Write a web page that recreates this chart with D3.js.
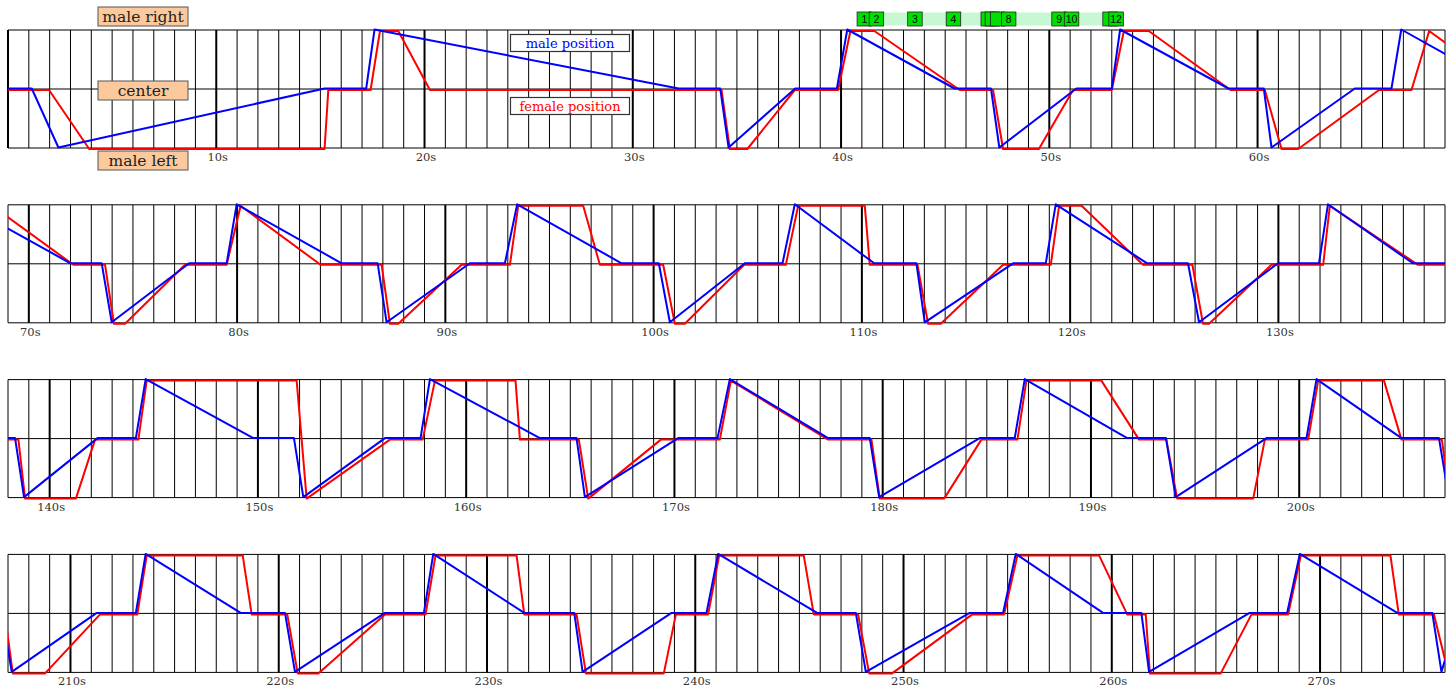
<!DOCTYPE html>
<html>
<head>
<meta charset="utf-8">
<script src="https://cdn.jsdelivr.net/npm/d3@7"></script>
<style>
  body { margin: 0; background: #fff; }
  svg { display: block; }
</style>
</head>
<body>
<div id="chart"></div>
<script>
// seconds shown on each strip
const rowStarts = [0, 69, 138, 207];
const ROW_SECONDS = 69;

const levelLabels = ['male right', 'center', 'male left'];
const levelValues = [1, 0, -1];
const legendLabels = ['male position', 'female position'];

// numbered event markers above the first strip
const markerLabels = ['1', '2', '3', '4', '5', '6', '7', '8', '9', '10', '11', '12'];
const markerTimes = [40.77, 41.35, 43.2, 45.05, 46.72, 46.92, 47.17, 47.7, 50.12, 50.72, 52.57, 52.86];

// [seconds, position]  1 = right, 0 = center, -1 = left
const maleTrack = [
  [0, 0], [1.14, 0], [2.42, -1], [15.2, 0], [17.2, 0], [17.6, 1], [32.2, 0], [34.2, 0], [34.6, -1],
  [37.8, 0], [39.8, 0], [40.3, 1], [45.45, 0], [47.2, 0], [47.6, -1], [51.3, 0], [53.0, 0], [53.4, 1],
  [58.6, 0], [60.3, 0], [60.67, -1], [64.67, 0], [66.43, 0], [66.9, 1],
  [72.0, 0], [73.5, 0], [73.98, -1], [77.7, 0], [79.5, 0], [79.98, 1], [85.02, 0], [86.75, 0], [87.18, -1],
  [91.18, 0], [92.86, 0], [93.45, 1], [98.46, 0], [100.25, 0], [100.78, -1], [104.38, 0], [106.19, 0],
  [106.78, 1], [110.59, 0], [112.62, 0], [113.02, -1], [117.26, 0], [118.83, 0], [119.31, 1], [123.7, 0],
  [125.66, 0], [126.19, -1], [129.98, 0], [131.95, 0], [132.38, 1], [136.46, 0],
  [138.34, 0], [138.77, -1], [142.3, 0], [144.14, 0], [144.61, 1], [149.78, 0], [151.73, 0], [152.18, -1],
  [156.1, 0], [157.81, 0], [158.26, 1], [163.54, 0], [165.3, 0], [165.7, -1], [170.18, 0], [172.07, 0],
  [172.66, 1], [177.38, 0], [179.38, 0], [179.83, -1], [184.66, 0], [186.34, 0], [186.82, 1], [191.74, 0],
  [193.6, 0], [194.07, -1], [198.43, 0], [200.35, 0], [200.83, 1], [204.91, 0], [206.71, 0], [207.18, -1],
  [211.26, 0], [213.14, 0], [213.61, 1], [218.17, 0], [220.3, 0], [220.78, -1], [225.1, 0], [226.97, 0],
  [227.42, 1], [231.79, 0], [234.19, 0], [234.59, -1], [238.86, 0], [240.54, 0], [241.1, 1], [245.85, 0],
  [247.71, 0], [248.19, -1], [253.18, 0], [254.78, 0], [255.39, 1], [259.58, 0], [261.42, 0], [261.79, -1],
  [266.62, 0], [268.42, 0], [269.03, 1], [273.71, 0], [275.39, 0], [275.83, -1], [276, -0.8]
];

const femaleTrack = [
  [0, 0], [1.97, 0], [3.9, -1], [15.2, -1], [15.38, 0], [17.41, 0], [17.86, 1], [18.74, 1], [20.26, 0],
  [34.26, 0], [34.66, -1], [35.5, -1], [37.78, 0], [39.86, 0], [40.45, 1], [41.6, 1], [45.7, 0], [47.3, 0],
  [47.78, -1], [49.5, -1], [51.14, 0], [53.0, 0], [53.58, 1], [54.78, 1], [58.7, 0], [60.35, 0], [61.15, -1],
  [61.95, -1], [65.83, 0], [67.39, 0], [68.24, 1],
  [72.14, 0], [73.66, 0], [74.09, -1], [74.62, -1], [77.5, 0], [79.5, 0], [80.17, 1], [84.01, 0], [86.94, 0],
  [87.34, -1], [87.74, -1], [90.78, 0], [93.1, 0], [93.5, 1], [96.62, 1], [97.42, 0], [100.46, 0], [101.02, -1],
  [101.5, -1], [104.35, 0], [106.35, 0], [106.94, 1], [110.14, 1], [110.38, 0], [112.67, 0], [113.18, -1],
  [113.79, -1], [116.78, 0], [119.07, 0], [119.47, 1], [120.55, 1], [123.5, 0], [125.87, 0], [126.38, -1],
  [126.67, -1], [129.67, 0], [132.15, 0], [132.47, 1], [136.7, 0],
  [138.5, 0], [138.82, -1], [141.26, -1], [142.18, 0], [144.26, 0], [144.66, 1], [151.86, 1], [152.34, -1],
  [156.34, 0], [157.91, 0], [158.5, 1], [162.37, 1], [162.58, 0], [165.41, 0], [165.86, -1], [169.35, 0],
  [172.18, 0], [172.71, 1], [177.38, 0], [179.46, 0], [179.86, -1], [182.95, -1], [184.74, 0], [186.47, 0],
  [186.9, 1], [190.5, 1], [192.31, 0], [193.62, 0], [194.14, -1], [197.79, -1], [198.35, 0], [200.43, 0],
  [200.91, 1], [204.07, 1], [204.91, 0], [206.85, 0], [207.23, -1],
  [208.78, -1], [211.42, 0], [213.21, 0], [213.66, 1], [218.27, 1], [218.7, 0], [220.41, 0], [220.91, -1],
  [221.9, -1], [225.1, 0], [227.05, 0], [227.53, 1], [231.42, 1], [231.79, 0], [234.3, 0], [234.75, -1],
  [238.49, -1], [239.07, 0], [240.62, 0], [241.15, 1], [245.21, 1], [245.69, 0], [247.82, 0], [248.35, -1],
  [249.45, -1], [253.3, 0], [254.83, 0], [255.47, 1], [259.39, 1], [260.74, 0], [261.63, 0], [261.83, -1],
  [265.23, -1], [266.71, 0], [268.47, 0], [269.08, 1], [273.38, 1], [273.78, 0], [275.47, 0], [276, -0.77]
];

const WIDTH = 1455, HEIGHT = 692;
const LEFT = 8, RIGHT = 1445;
const TOP = 30, ROW_H = 118, ROW_STEP = 174.8;
const SERIF = '"DejaVu Serif", serif';

const svg = d3.select('#chart').append('svg')
  .attr('width', WIDTH)
  .attr('height', HEIGHT)
  .style('background', '#fff');

const defs = svg.append('defs');

const y = d3.scaleLinear().domain([-1, 1]).range([ROW_H, 0]);

const line = function(x, dy) {
  return d3.line()
    .x(d => x(d[0]))
    .y(d => y(d[1]) + dy);
};

let x0 = null;

rowStarts.forEach(function(start, i) {
  const x = d3.scaleLinear().domain([start, start + ROW_SECONDS]).range([LEFT, RIGHT]);
  if (i === 0) x0 = x;
  const g = svg.append('g').attr('class', 'row').attr('transform', `translate(0,${TOP + i * ROW_STEP})`);

  defs.append('clipPath').attr('id', 'clip' + i)
    .append('rect')
    .attr('x', LEFT).attr('y', -3)
    .attr('width', RIGHT - LEFT).attr('height', ROW_H + 6);

  // one line a second, a heavier one every ten
  const secs = d3.range(start, start + ROW_SECONDS + 1);
  g.append('g').attr('class', 'grid-x')
    .selectAll('line')
    .data(secs)
    .enter().append('line')
      .attr('x1', d => x(d)).attr('x2', d => x(d))
      .attr('y1', 0).attr('y2', ROW_H)
      .attr('stroke', '#000')
      .attr('stroke-width', d => d % 10 === 0 ? 2 : 1);

  g.append('g').attr('class', 'grid-y')
    .selectAll('line')
    .data(levelValues)
    .enter().append('line')
      .attr('x1', LEFT).attr('x2', RIGHT)
      .attr('y1', d => y(d)).attr('y2', d => y(d))
      .attr('stroke', '#000')
      .attr('stroke-width', 1);

  const ticks = secs.filter(d => d % 10 === 0 && d > 0);
  g.append('g').attr('class', 'ticks')
    .selectAll('text')
    .data(ticks)
    .enter().append('text')
      .attr('x', d => x(d) + 1.5)
      .attr('y', ROW_H + 13)
      .attr('text-anchor', 'middle')
      .attr('font-family', SERIF)
      .attr('font-size', 11.5)
      .attr('fill', '#333')
      .text(d => d + 's');

  const tracks = g.append('g').attr('clip-path', `url(#clip${i})`);
  tracks.append('path')
    .datum(femaleTrack)
    .attr('d', line(x, 1))
    .attr('fill', 'none')
    .attr('stroke', '#ff0000')
    .attr('stroke-width', 2)
    .attr('stroke-linejoin', 'round');
  tracks.append('path')
    .datum(maleTrack)
    .attr('d', line(x, -0.5))
    .attr('fill', 'none')
    .attr('stroke', '#0000ff')
    .attr('stroke-width', 2)
    .attr('stroke-linejoin', 'round');
});

// level captions on the first strip
const capY = [TOP - 13, TOP + ROW_H / 2 + 2, TOP + ROW_H + 13];
const caps = svg.append('g').attr('class', 'levels')
  .selectAll('g')
  .data(levelLabels)
  .enter().append('g')
    .attr('transform', (d, i) => `translate(143,${capY[i]})`);
caps.append('rect')
  .attr('x', -45).attr('y', -10)
  .attr('width', 90).attr('height', 19)
  .attr('fill', '#fbc99b')
  .attr('stroke', '#555')
  .attr('stroke-width', 1);
caps.append('text')
  .attr('y', 5)
  .attr('text-anchor', 'middle')
  .attr('font-family', SERIF)
  .attr('font-size', 15.5)
  .attr('fill', '#222')
  .text(d => d);

// legend
const legendColors = ['#0000ff', '#ff0000'];
const legendY = [43, 106];
const legend = svg.append('g').attr('class', 'legend')
  .selectAll('g')
  .data(legendLabels)
  .enter().append('g')
    .attr('transform', (d, i) => `translate(570,${legendY[i]})`);
legend.append('rect')
  .attr('x', -59.5).attr('y', -8.5)
  .attr('width', 119).attr('height', 17)
  .attr('fill', '#fff')
  .attr('stroke', '#333')
  .attr('stroke-width', 1.2);
legend.append('text')
  .attr('y', 4.5)
  .attr('text-anchor', 'middle')
  .attr('font-family', SERIF)
  .attr('font-size', 13)
  .attr('fill', (d, i) => legendColors[i])
  .text(d => d);

// event markers; a number is only printed when its box is not mostly hidden by the next
const MW = 14.5;
const mk = svg.append('g').attr('class', 'markers');
mk.append('rect')
  .attr('x', x0(markerTimes[0]))
  .attr('y', 12.5)
  .attr('width', x0(markerTimes[markerTimes.length - 1]) + MW - x0(markerTimes[0]))
  .attr('height', 13)
  .attr('fill', '#c8f7d3');
const boxes = mk.selectAll('g.marker')
  .data(markerTimes)
  .enter().append('g')
    .attr('class', 'marker')
    .attr('transform', d => `translate(${x0(d)},12)`);
boxes.append('rect')
  .attr('width', MW).attr('height', 14)
  .attr('fill', '#00e000')
  .attr('stroke', '#222')
  .attr('stroke-width', 0.8);
boxes.filter(function(d, i) {
    const next = markerTimes[i + 1];
    return next === undefined || x0(next) - x0(d) > 11.5;
  })
  .append('text')
  .attr('x', MW / 2).attr('y', 11)
  .attr('text-anchor', 'middle')
  .attr('font-family', 'Arial, "Liberation Sans", sans-serif')
  .attr('font-size', 10.5)
  .attr('fill', '#000')
  .text(function(d) { return markerLabels[markerTimes.indexOf(d)]; });
</script>
</body>
</html>
